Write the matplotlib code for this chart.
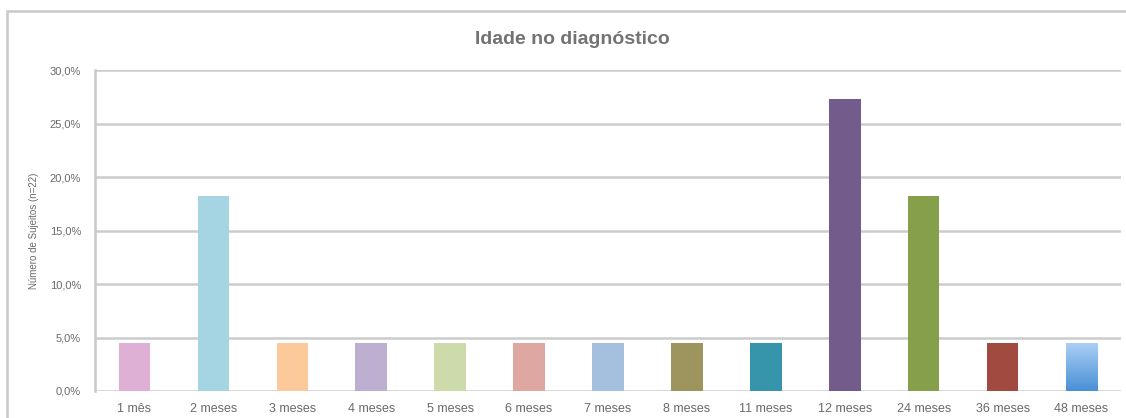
import numpy as np
import matplotlib
matplotlib.use("Agg")
import matplotlib.pyplot as plt
from matplotlib.patches import Rectangle
from matplotlib.ticker import FuncFormatter

plt.rcParams['font.family'] = ['Liberation Sans', 'DejaVu Sans']

categories = ["1 mês", "2 meses", "3 meses", "4 meses", "5 meses", "6 meses", "7 meses",
              "8 meses", "11 meses", "12 meses", "24 meses", "36 meses", "48 meses"]
percent = [4.5, 18.2, 4.5, 4.5, 4.5, 4.5, 4.5, 4.5, 4.5, 27.3, 18.2, 4.5, 4.5]
colors = ["#dfb0d6", "#a5d5e2", "#fbc99a", "#bdafcf", "#cddaaa", "#dfa7a1", "#a5bfdf",
          "#9e955e", "#3795ab", "#735b8c", "#859f4a", "#a14a40", "#78b0ea"]

fig = plt.figure(figsize=(11.26, 4.18), dpi=100)
ax = fig.add_axes([95 / 1126, 27 / 418, 1026 / 1126, 321 / 418])

x = np.arange(len(categories))
bars = ax.bar(x, percent, width=0.4, color=colors, zorder=3)

# last bar gets a vertical blue gradient
last = bars[-1]
grad = np.linspace(0, 1, 256).reshape(-1, 1)
cmap = matplotlib.colors.LinearSegmentedColormap.from_list("blu", ["#4a8fd6", "#abd0f6"])
bx, bw = last.get_x(), last.get_width()
im = ax.imshow(grad, cmap=cmap, origin="lower", aspect="auto",
               extent=[bx, bx + bw, 0, last.get_height()], zorder=4)
im.set_clip_path(last)
ax.set_xlim(-0.5, len(categories) - 0.5)
ax.set_ylim(0, 30)

ax.set_yticks(np.arange(0, 31, 5))
ax.yaxis.set_major_formatter(FuncFormatter(lambda v, p: f"{v:.1f}%".replace(".", ",")))
ax.grid(axis="y", color="#cccccc", linewidth=1.8, zorder=0)
ax.set_axisbelow(True)
for s in ["top", "right", "bottom"]:
    ax.spines[s].set_visible(False)
ax.spines["left"].set_color("#c8c8c8")
ax.spines["left"].set_linewidth(1.8)

ax.set_xticks(x)
ax.set_xticklabels(categories)
ax.tick_params(axis="both", length=0, labelcolor="#6a6a6a")
ax.tick_params(axis="x", labelsize=9, pad=9)
ax.tick_params(axis="y", labelsize=8, pad=10)

ax.set_ylabel("Número de Sujeitos (n=22)", fontsize=7, color="#6a6a6a", labelpad=8)
fig.text(572 / 1126, 1 - 40 / 418, "Idade no diagnóstico", ha="center", va="center",
         fontsize=14, fontweight="bold", color="#737373")

# outer chart frame
fig.patches.append(Rectangle((7 / 1126, -0.1), 1.2, 1.1 - 11 / 418, transform=fig.transFigure,
                             fill=False, edgecolor="#c8c8c8", linewidth=1.8))

fig.savefig("out.png", dpi=100)
